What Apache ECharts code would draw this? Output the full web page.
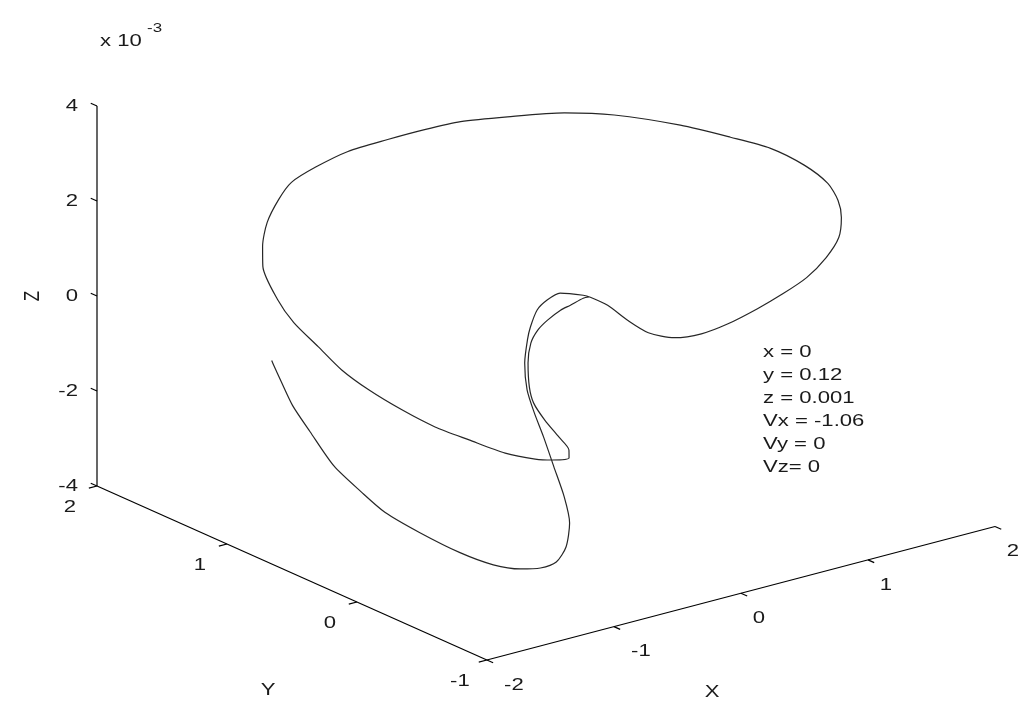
<!DOCTYPE html>
<html>
<head>
<meta charset="utf-8">
<script src="https://cdn.jsdelivr.net/npm/echarts@6/dist/echarts.min.js"></script>
<style>
  html, body { margin: 0; padding: 0; background: #ffffff; }
  #chart { width: 1022px; height: 715px; }
</style>
</head>
<body>
<div id="chart"></div>
<script>
// Orbit samples: x, y and z (z in units of 1e-3)
const trajX = [-0.100, -0.116, -0.205, -0.256, -0.352, -0.432, -0.505, -0.609, -0.711, -0.762,
  -0.737, -0.697, -0.686, -0.722, -0.828, -0.927, -1.062, -1.174, -1.304, -1.384,
  -1.458, -1.502, -1.493, -1.479, -1.435, -1.298, -1.209, -1.051, -0.870, -0.724,
  -0.545, -0.312, -0.088, 0.099, 0.287, 0.494, 0.766, 0.990, 1.231, 1.398,
  1.553, 1.638, 1.658, 1.625, 1.558, 1.428, 1.249, 1.008, 0.767, 0.525,
  0.238, 0.021, -0.129, -0.203, -0.169, -0.101, -0.097, -0.110, -0.148, -0.210,
  -0.264, -0.355, -0.408, -0.492, -0.595, -0.630, -0.666, -0.737, -0.808, -0.912,
  -1.065, -1.201, -1.293, -1.377, -1.439, -1.469, -1.472, -1.472, -1.417, -1.342,
  -1.186, -1.088, -0.983, -0.920, -0.901];
const trajY = [0.070, 0.100, 0.112, 0.138, 0.144, 0.141, 0.123, 0.043, -0.067, -0.150,
  -0.211, -0.280, -0.347, -0.383, -0.356, -0.323, -0.224, -0.056, 0.079, 0.256,
  0.439, 0.606, 0.794, 0.995, 1.163, 1.410, 1.499, 1.618, 1.706, 1.751,
  1.743, 1.719, 1.632, 1.531, 1.438, 1.279, 1.108, 0.943, 0.670, 0.447,
  0.290, 0.111, -0.048, -0.159, -0.250, -0.357, -0.435, -0.520, -0.575, -0.614,
  -0.668, -0.675, -0.615, -0.486, -0.296, -0.073, 0.064, 0.106, 0.247, 0.286,
  0.310, 0.273, 0.244, 0.183, 0.064, -0.026, -0.132, -0.281, -0.430, -0.573,
  -0.695, -0.753, -0.721, -0.649, -0.501, -0.274, 0.035, 0.301, 0.535, 0.820,
  1.156, 1.386, 1.577, 1.695, 1.730];
const trajZ = [1.0, 0.95, 0.85, 0.75, 0.6, 0.45, 0.25, 0.0, -0.3, -0.5,
  -0.8, -1.1, -1.3, -1.4, -1.4, -1.35, -1.25, -1.1, -0.9, -0.7,
  -0.45, -0.2, 0.05, 0.3, 0.55, 0.85, 1.1, 1.35, 1.6, 1.8,
  2.0, 2.2, 2.4, 2.6, 2.75, 2.9, 3.0, 3.0, 2.95, 2.85,
  2.7, 2.5, 2.3, 2.1, 1.9, 1.7, 1.5, 1.35, 1.25, 1.15,
  1.1, 1.05, 1.0, 1.0, 1.0, 1.0, 1.0, 1.0, 0.9, 0.75,
  0.55, 0.3, 0.1, -0.25, -0.6, -0.95, -1.3, -1.7, -2.1, -2.4,
  -2.65, -2.8, -2.9, -2.95, -3.0, -3.0, -2.95, -2.85, -2.75, -2.6,
  -2.4, -2.2, -2.0, -1.85, -1.8];

// Axis limits and ticks
const xRange = [-2, 2];
const yRange = [-1, 2];
const zRange = [-4, 4];
const xTicks = [-2, -1, 0, 1, 2];
const yTicks = [-1, 0, 1, 2];
const zTicks = [-4, -2, 0, 2, 4];

// Initial conditions printed beside the orbit
const initLines = ['x = 0', 'y = 0.12', 'z = 0.001', 'Vx = -1.06', 'Vy = 0', 'Vz= 0'];

// Orthographic view of a unit plot box (azimuth / elevation in degrees)
const AZ = -37.5, EL = 30;
const a = AZ * Math.PI / 180, e = EL * Math.PI / 180;
function project(x, y, z) {
  const cx = (x - xRange[0]) / (xRange[1] - xRange[0]) - 0.5;
  const cy = (y - yRange[0]) / (yRange[1] - yRange[0]) - 0.5;
  const cz = (z - zRange[0]) / (zRange[1] - zRange[0]) - 0.5;
  const sx = Math.cos(a) * cx + Math.sin(a) * cy;
  const sy = -Math.sin(e) * Math.sin(a) * cx + Math.sin(e) * Math.cos(a) * cy + Math.cos(e) * cz;
  return [sx, sy];
}

const [x0, x1] = xRange, [y0, y1] = yRange, [z0, z1] = zRange;
const sxMin = project(x0, y1, z0)[0];
const sxMax = project(x1, y0, z0)[0];
const syMin = project(x0, y0, z0)[1];
const syMax = project(x0, y1, z1)[1];

const curve = trajX.map((x, i) => project(x, trajY[i], trajZ[i]));

// Axis lines along the outer edges of the box
const axisLines = [
  [project(x0, y0, z0), project(x1, y0, z0)],
  [project(x0, y0, z0), project(x0, y1, z0)],
  [project(x0, y1, z0), project(x0, y1, z1)]
];

// Tick marks (fraction of the box edge)
const TL = 0.016;
const xSpan = x1 - x0, ySpan = y1 - y0;
const tickSegs = [];
xTicks.forEach(v => tickSegs.push({ coords: [project(v, y0, z0), project(v, y0 - TL * ySpan, z0)] }));
yTicks.forEach(v => tickSegs.push({ coords: [project(x0, v, z0), project(x0 - TL * xSpan, v, z0)] }));
zTicks.forEach(v => tickSegs.push({ coords: [project(x0, y1, v), project(x0, y1 + TL * ySpan, v)] }));

const FONT = "'Liberation Sans', Arial, Helvetica, sans-serif";
const FS = 17;
const SX = 1.3;      // horizontal stretch of the lettering
const INK = '#1a1a1a';

const series = [
  {
    type: 'line', data: curve, showSymbol: false, silent: true, clip: false, smooth: 0.25,
    lineStyle: { color: '#262626', width: 1.2 }, z: 3
  },
  ...axisLines.map(seg => ({
    type: 'line', data: seg, showSymbol: false, silent: true, clip: false,
    lineStyle: { color: '#000', width: 1.2 }, z: 2
  })),
  {
    type: 'lines', coordinateSystem: 'cartesian2d', silent: true, clip: false,
    data: tickSegs, lineStyle: { color: '#000', width: 1.2, opacity: 1 }, z: 2
  }
];

const chart = echarts.init(document.getElementById('chart'), null, { renderer: 'canvas' });
chart.setOption({
  animation: false,
  backgroundColor: '#ffffff',
  grid: { left: 97, right: 27, top: 106, bottom: 55 },
  xAxis: { type: 'value', min: sxMin, max: sxMax, show: false },
  yAxis: { type: 'value', min: syMin, max: syMax, show: false },
  series: series
});

function txt(text, x, y, align, vAlign, extra) {
  return Object.assign({
    type: 'text', x: x, y: y, scaleX: SX, silent: true,
    style: {
      text: text, font: FS + 'px ' + FONT, fill: INK,
      align: align, verticalAlign: vAlign, textAlign: align, textVerticalAlign: vAlign
    }
  }, extra || {});
}

// Tick labels placed at the projected tick positions
const toPx = p => chart.convertToPixel({ gridIndex: 0 }, p);
const graphics = [];
xTicks.forEach(v => {
  const p = toPx(project(v, y0, z0));
  const dx = v < 0 ? 27 : 18;   // leading minus sign widens the label
  graphics.push(txt(String(v), p[0] + dx, p[1] + 25, 'center', 'middle'));
});
yTicks.forEach(v => {
  const p = toPx(project(x0, v, z0));
  graphics.push(txt(String(v), p[0] - 27, p[1] + 21, 'center', 'middle'));
});
zTicks.forEach(v => {
  const p = toPx(project(x0, y1, v));
  graphics.push(txt(String(v), p[0] - 19, p[1], 'right', 'middle'));
});

// Axis titles, exponent and the initial-condition note
const zAxisMid = toPx(project(x0, y1, 0));
graphics.push(txt('Z', 33, zAxisMid[1], 'center', 'middle', { rotation: Math.PI / 2, scaleX: 1, scaleY: SX }));
graphics.push(txt('Y', 268, 690, 'center', 'middle'));
graphics.push(txt('X', 712, 692, 'center', 'middle'));
graphics.push(txt('x 10', 100, 41, 'left', 'middle'));
const sup = txt('-3', 147, 28, 'left', 'middle');
sup.style.font = '13px ' + FONT;
graphics.push(sup);
const note = txt(initLines.join('\n'), 763, 341, 'left', 'top');
note.style.lineHeight = 23;
graphics.push(note);

chart.setOption({ graphic: graphics });
</script>
</body>
</html>
